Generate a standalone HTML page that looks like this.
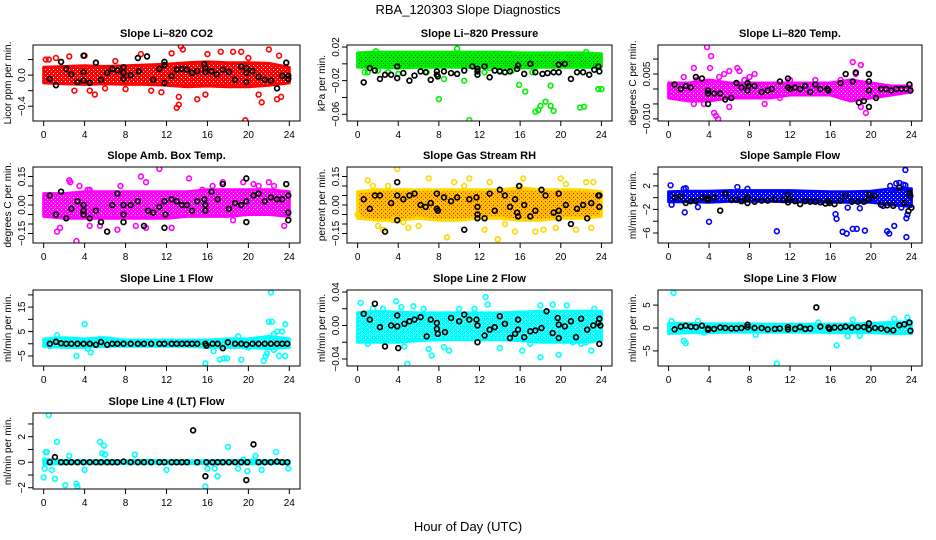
<!DOCTYPE html>
<html><head><meta charset="utf-8"><style>
html,body{margin:0;padding:0;background:#fff}
svg{display:block;font-family:"Liberation Sans",Arial,sans-serif}
</style></head><body>
<svg id="chart" width="936" height="540" viewBox="0 0 936 540" xmlns="http://www.w3.org/2000/svg">
<text x="468" y="14" text-anchor="middle" font-size="13">RBA_120303  Slope Diagnostics</text>
<text x="468" y="531" text-anchor="middle" font-size="13">Hour of Day (UTC)</text>
</svg>
<script>
const xTicks = [0,4,8,12,16,20,24];
const bandHours = [0,2,4,6,8,10,12,14,16,18,20,22,24];

// Panel 1: CO2
const co2BandLo = [-0.1,-0.11,-0.12,-0.11,-0.12,-0.12,-0.13,-0.15,-0.14,-0.15,-0.15,-0.13,-0.1];
const co2BandHi = [0.1,0.11,0.12,0.11,0.12,0.13,0.14,0.16,0.17,0.16,0.16,0.15,0.1];
const co2Pts = [[0.2,0.2],[0.5,0.2],[1.2,0.22],[2.5,0.24],[4,0.25],[4.5,-0.2],[5,-0.25],[9.5,0.27],[10.5,-0.2],[11.5,-0.22],[12.5,0.28],[13,-0.42],[13.2,-0.38],[13.4,0.37],[13.6,0.33],[13.2,-0.28],[15,-0.31],[15.8,-0.25],[16,0.27],[17.3,0.3],[18.5,0.3],[19.3,0.3],[19.7,-0.58],[20,0.22],[21.3,-0.35],[21,-0.25],[22,0.33],[22.8,-0.31],[23.2,-0.28],[23,0.25],[6,-0.17],[7,0.18],[8,-0.18],[3,-0.2]];
const co2Blk = [[0.6,-0.05],[1.2,-0.13],[1.7,0.17],[2.2,0.08],[2.7,0.01],[3.3,-0.09],[3.9,0.25],[3.9,0.04],[3.9,-0.07],[4.5,-0.1],[5.1,0.16],[5.6,-0.06],[6.2,0.03],[6.7,0.08],[7.2,0.06],[7.8,0.1],[7.8,0.03],[7.8,-0.05],[8.5,0],[9.2,0.22],[9.3,0.05],[10.1,0.24],[10.7,-0.06],[11.3,0.08],[11.8,-0.1],[11.8,0.17],[11.8,0.13],[12.5,-0.01],[13,0.07],[13.5,0.08],[14,0.07],[14.5,0.03],[15,0.05],[15.7,0.14],[15.8,0.04],[15.8,0.09],[16.4,0.05],[16.9,0.01],[17.5,0.07],[18.1,0.04],[18.7,-0.06],[19.3,0.11],[19.8,0.09],[19.8,0.03],[19.8,-0.09],[20.4,0.05],[21,-0.02],[21.6,-0.06],[22.2,-0.07],[22.8,-0.17],[23.3,-0.01],[23.7,0.16],[23.9,-0.01],[23.9,-0.05]];

// Panel 2: Pressure
const presBandLo = [-0.004,-0.004,-0.005,-0.004,-0.004,-0.004,-0.004,-0.004,-0.005,-0.004,-0.004,-0.004,-0.004];
const presBandHi = [0.013,0.014,0.014,0.014,0.014,0.014,0.014,0.014,0.013,0.013,0.013,0.013,0.012];
const presPts = [[0.7,-0.01],[1,-0.01],[1.8,0.015],[2,-0.008],[3,-0.01],[4,-0.012],[6.8,-0.01],[8,-0.042],[8.5,-0.018],[9.8,0.018],[10.5,-0.02],[11,-0.067],[12.5,-0.01],[13,-0.005],[14,-0.008],[15.2,-0.008],[15.9,-0.025],[16.5,-0.033],[17.2,-0.01],[17.5,-0.057],[17.8,-0.055],[18,-0.05],[18.5,-0.045],[19,-0.026],[19,-0.05],[19.3,-0.056],[21.5,0.0],[21.9,-0.052],[22.3,-0.051],[22.5,0.014],[23.7,-0.03],[24,-0.03],[20,0.01]];
const presBlk = [[0.6,-0.022],[1.2,-0.005],[1.7,-0.008],[2.2,-0.018],[2.7,-0.013],[3.3,-0.013],[3.9,-0.017],[3.9,-0.003],[4.5,-0.011],[5.1,-0.02],[5.6,-0.014],[6.2,-0.009],[6.7,-0.01],[7.2,-0.019],[7.8,-0.013],[7.8,-0.009],[7.9,-0.015],[8.5,-0.009],[9.2,-0.011],[9.8,-0.012],[10.5,-0.008],[11.3,-0.003],[11.8,-0.009],[11.8,-0.013],[11.8,-0.006],[12.5,-0.003],[13,-0.016],[13.5,-0.008],[14,-0.009],[14.5,-0.01],[15,-0.009],[15.7,-0.006],[15.8,-0.002],[16.4,-0.012],[17,0.0],[17.5,-0.01],[18.2,-0.012],[18.7,-0.011],[19.3,-0.01],[19.8,-0.001],[19.8,-0.01],[20.4,0.0],[21,-0.018],[21.6,-0.01],[22.2,-0.01],[22.8,-0.013],[23.3,-0.007],[23.7,-0.003],[23.8,-0.009]];

// Panel 3: Li-820 Temp
const tempBandLo = [-0.003,-0.004,-0.004,-0.003,-0.003,-0.003,-0.002,-0.002,-0.002,-0.004,-0.003,-0.002,-0.001];
const tempBandHi = [0.002,0.002,0.003,0.002,0.002,0.002,0.002,0.002,0.002,0.003,0.002,0.001,0.001];
const tempPts = [[3.8,0.014],[4.2,0.011],[4.1,0.007],[2.5,0.007],[1.5,0.004],[2.8,0.003],[3.5,-0.005],[4.5,-0.008],[4.7,-0.009],[4.9,-0.01],[5,0.004],[5.5,0.005],[6,0.006],[6.8,0.007],[7,0.006],[7.5,0.003],[8,0.004],[8.5,0.005],[9.5,-0.005],[14.5,0.003],[17,0.003],[18.2,0.009],[19,0.008],[19.5,-0.008],[19,-0.006],[18.5,0.005],[2.5,-0.005],[6,-0.006],[11,-0.003],[12,0.003]];
const tempBlk = [[0.6,0.0015],[1.2,0.0],[1.7,0.001],[2.2,0.0005],[2.7,0.004],[3.3,0.0035],[3.9,-0.0005],[3.9,-0.0015],[3.9,-0.005],[4.5,-0.0015],[5.1,-0.0015],[5.6,-0.0035],[6.2,-0.003],[6.7,0.002],[7.2,0.0005],[7.8,0.002],[7.8,-0.0005],[7.9,0.001],[8.5,0.001],[9.2,-0.001],[9.8,-0.0005],[10.2,0.0],[11,0.0025],[11.8,0.0035],[11.8,0.0005],[12,0.0],[12.5,0.0005],[13,0.0],[13.5,0.001],[14,-0.001],[14.5,0.0015],[15,0.0],[15.7,0.0],[15.8,-0.0005],[17,0.002],[17.5,0.005],[18.2,0.0025],[18.5,0.0055],[18.8,-0.0045],[19.3,-0.004],[19.8,0.005],[19.8,0.0025],[19.8,-0.0005],[19.8,-0.006],[20.5,-0.003],[21,0.0],[21.5,0.0],[22,-0.0005],[22.5,0.0],[23,0.0],[23.5,0.0],[23.8,0.0015],[23.9,-0.0005]];

// Panel 4: Amb Box Temp
const ambBandLo = [-0.06,-0.07,-0.07,-0.07,-0.07,-0.07,-0.07,-0.06,-0.06,-0.06,-0.05,-0.05,-0.06];
const ambBandHi = [0.06,0.06,0.07,0.07,0.07,0.07,0.07,0.07,0.08,0.08,0.08,0.08,0.07];
const ambPts = [[1.3,-0.14],[1.6,-0.12],[2.5,0.13],[2.6,0.12],[3.2,-0.19],[3.5,0.1],[4.3,0.08],[4.5,0.08],[4.5,-0.11],[5.5,-0.11],[7.2,-0.13],[7.5,0.1],[9,-0.11],[9.5,0.15],[10,0.12],[10,-0.12],[11.3,0.19],[12.5,-0.12],[14.2,0.14],[15.5,0.08],[16.5,0.1],[17.5,0.12],[18.5,-0.08],[20.5,0.11],[21,0.1],[22,0.12],[23.5,-0.11],[22.5,0.1],[19.5,0.12]];
const ambBlk = [[0.6,0.05],[1.2,-0.05],[1.7,0.07],[2.2,-0.07],[2.7,-0.02],[3.3,0.02],[3.9,-0.05],[3.9,0.0],[3.9,-0.03],[4.5,-0.07],[5.1,-0.03],[5.6,-0.09],[6.2,-0.14],[6.7,0.0],[7.2,0.06],[7.8,0.0],[7.8,-0.05],[7.8,-0.09],[8.5,0.0],[9.2,0.02],[9.8,-0.11],[10.2,-0.03],[10.7,-0.04],[11.3,-0.01],[11.8,-0.12],[11.8,0.02],[11.9,-0.05],[12.5,0.03],[13,0.02],[13.5,0.0],[14,0.0],[14.5,-0.03],[15,0.02],[15.7,0.03],[15.8,0.0],[15.8,-0.03],[16.4,0.07],[17,0.03],[17.5,0.11],[18.1,-0.02],[18.7,0.01],[19.3,0.0],[19.8,0.14],[19.8,0.02],[19.8,-0.09],[20.5,0.05],[21,0.06],[21.6,0.02],[22.2,0.04],[22.8,0.03],[23.3,0.03],[23.7,0.11],[23.9,0.05],[23.9,-0.04],[23.9,-0.08]];

// Panel 5: Gas Stream RH
const rhBandLo = [-0.07,-0.08,-0.08,-0.07,-0.08,-0.08,-0.07,-0.07,-0.08,-0.08,-0.07,-0.07,-0.06];
const rhBandHi = [0.07,0.08,0.08,0.08,0.08,0.08,0.08,0.08,0.09,0.08,0.08,0.08,0.07];
const rhPts = [[0,-0.05],[1,0.13],[1.5,0.1],[2,-0.11],[2.5,-0.13],[3,0.1],[3.5,-0.08],[3.9,0.19],[4.5,-0.09],[5,-0.12],[6,-0.11],[7,0.14],[8.8,-0.17],[9.5,0.12],[10.5,0.1],[11,0.14],[12.5,-0.13],[13,0.12],[13.8,-0.18],[14.5,-0.1],[15.5,-0.14],[16.3,0.14],[16,0.1],[17.5,-0.14],[18.3,-0.13],[19.5,-0.12],[20,0.14],[20.5,0.11],[21.5,-0.13],[22.5,0.12],[23,-0.12],[23.2,0.12]];
const rhBlk = [[0.6,0.03],[1.2,-0.02],[1.7,0.05],[2.2,0.05],[2.7,-0.14],[3.3,0.01],[3.9,0.12],[3.9,0.05],[3.9,-0.08],[4.5,0.03],[5.1,0.05],[5.6,0.06],[6.2,0.0],[6.7,-0.01],[7.2,0.01],[7.8,0.06],[7.8,-0.02],[7.9,-0.03],[8.5,0.04],[9.2,0.02],[9.8,0.04],[10.5,-0.13],[11,0.03],[11.7,0.04],[11.8,-0.01],[11.8,-0.05],[11.8,-0.07],[12.5,-0.07],[13,0.06],[13.5,-0.03],[14,0.08],[14.5,0.05],[15,-0.01],[15.5,0.03],[15.7,-0.04],[15.8,-0.06],[15.9,0.1],[16.4,0.0],[17,-0.06],[17.5,-0.03],[18.1,0.08],[18.5,0.05],[19.3,-0.04],[19.8,0.06],[19.8,-0.03],[19.8,-0.07],[20.5,0.0],[21,-0.1],[21.6,-0.02],[22.2,0.0],[22.6,-0.07],[23,0.01],[23.7,0.05],[23.8,-0.01],[23.8,0.05]];

// Panel 6: Sample Flow
const sfBandLo = [-0.7,-0.7,-0.8,-0.6,-0.6,-0.6,-0.7,-0.7,-0.8,-0.8,-0.8,-1.2,-1.5];
const sfBandHi = [1.0,1.1,1.1,1.2,1.2,1.2,1.2,1.1,1.0,1.0,1.1,1.5,1.5];
const sfPts = [[0.2,2.1],[0.3,-1.2],[1.5,1.5],[1.6,-2.5],[1.7,1.6],[2.9,-1.6],[4,-4.1],[6.8,1.8],[7.8,1.5],[10.7,-5.7],[16.5,-2.8],[16.6,-3.6],[17.2,-5.8],[17.6,-6.1],[17.7,-1.7],[18.2,-5.3],[18.6,-5.3],[18.9,-1.8],[19.4,-5.6],[21.2,-1.4],[21.6,-5.7],[21.8,-6.1],[21.9,2.0],[22.3,-4.8],[22.5,2.4],[22.8,2.5],[23,-1.7],[23.2,2.2],[23.4,4.7],[23.4,2.1],[23.5,-3.5],[23.6,-2.9],[23.5,-6.7],[23.6,1.3],[22.2,1.3]];
const sfBlk = [[0.6,0.0],[1.2,0.2],[1.7,-0.9],[2.2,-0.6],[2.7,-0.6],[3.3,0.0],[3.9,-0.4],[3.9,-0.1],[4.5,0.0],[5.1,-2.2],[5.6,0.6],[6.2,-0.4],[6.7,-0.4],[7.2,-0.6],[7.8,-0.9],[7.8,-0.2],[7.8,0],[8.5,-0.7],[9.2,-0.5],[9.8,-0.5],[10.5,-0.3],[11.3,-0.4],[11.8,0.5],[11.8,-0.8],[11.9,-0.2],[12.5,-0.6],[13,-1.1],[13.5,-0.6],[14,-0.7],[14.5,-0.7],[15,-0.8],[15.5,-1.0],[15.8,-0.6],[15.9,-0.9],[16.4,-1.1],[17,-0.5],[17.5,0.3],[18.1,-0.7],[18.7,-0.7],[19.3,-0.7],[19.8,0.5],[19.8,-0.3],[20.4,0.3],[21,-1.2],[21.6,-1.3],[22.2,-1.4],[22.8,1.7],[23.3,-0.9],[23.7,-2.3],[23.8,0.8],[24,-1.7],[23.9,0.3]];

// Panel 7: Line 1 Flow
const l1BandLo = [-1,-1.5,-1.5,-1,-1,-1,-1,-1,-1.5,-1.5,-1.5,-2,-1.5];
const l1BandHi = [2,2.5,2,2.5,1.5,1.5,1.5,1.5,1.5,2,2,3,2];
const l1Pts = [[0.6,-1],[1.3,3.5],[3.2,-5],[4,8],[4.3,-2],[4.6,-3.5],[5.5,2],[15.8,-8],[16.6,-3],[17.2,-6.5],[17.6,-6],[17.9,-6],[19.3,-6.5],[19,3],[21.5,-7],[21.7,-5],[22,9],[22.3,9],[22.2,21],[22.5,4],[22.8,5],[23,-5],[23.3,5],[23.6,8],[23.6,-5],[22.5,-2.5],[21.8,-4],[19.5,1],[20,-1.5]];
const l1Blk = [[0.6,0],[1.2,0.8],[1.7,0.2],[2.2,0],[2.7,0],[3.3,0],[3.9,0],[4.5,0],[5.1,-0.4],[5.6,0.7],[6.2,-0.4],[6.7,0],[7.2,0],[7.8,0],[8.5,0],[9.2,0],[9.8,0],[10.5,0],[11.3,0],[11.8,0],[12.5,0],[13,0],[13.5,0],[14,0],[14.5,0],[15,0],[15.8,0],[15.9,-0.8],[16.5,0],[17,0],[17.5,-1.8],[18,0.6],[18.7,0],[19.3,0],[19.8,-0.3],[20.4,0],[21,0],[21.6,0],[22.2,0],[22.8,0],[23.3,0],[23.8,0]];

// Panel 8: Line 2 Flow
const l2BandLo = [-0.02,-0.02,-0.02,-0.018,-0.017,-0.017,-0.017,-0.017,-0.018,-0.02,-0.02,-0.02,-0.018];
const l2BandHi = [0.015,0.017,0.016,0.015,0.015,0.015,0.015,0.015,0.016,0.017,0.017,0.017,0.017];
const l2Pts = [[0.3,0.027],[0.2,-0.018],[1,-0.022],[1.5,0.02],[2.5,0.02],[3.8,0.029],[4.3,0.022],[4.9,-0.046],[4.6,-0.025],[5.5,0.023],[6.5,0.02],[7,-0.028],[7.3,-0.036],[8.5,-0.026],[9,-0.03],[10,0.02],[11.5,0.02],[12.6,0.034],[12.8,0.025],[14,-0.027],[16.2,-0.03],[17,-0.022],[18,-0.038],[18,0.024],[19.2,0.025],[19.8,-0.035],[20.6,0.024],[21.2,-0.02],[22.5,-0.02],[23,-0.03],[23.3,0.02],[23.8,-0.01],[22,-0.022]];
const l2Blk = [[0.6,0.014],[1.2,0.007],[1.7,0.026],[2.2,-0.002],[2.7,-0.025],[3.3,0],[3.9,0.012],[3.9,-0.001],[4,-0.027],[4.6,0.002],[5.1,0.005],[5.6,0.007],[6.2,0.01],[6.8,-0.013],[7.2,0.007],[7.8,0.003],[7.8,-0.004],[7.9,-0.01],[8.6,-0.008],[9.2,0.009],[10,0.005],[10.5,0.013],[11,0.007],[11.7,0.007],[11.8,0.0],[11.8,-0.02],[12.5,-0.012],[13,-0.005],[13.5,-0.002],[14,0.011],[14.5,0.002],[15,-0.015],[15.5,-0.01],[15.8,-0.005],[15.8,0.007],[16.4,-0.014],[17,-0.007],[17.5,-0.006],[18.1,-0.003],[18.6,0.017],[19.2,-0.009],[19.7,0.009],[19.8,0.001],[19.8,-0.015],[20.4,-0.001],[21,0.005],[21.5,-0.014],[22,0.008],[22.6,-0.005],[23.2,0.0],[23.7,0.003],[23.8,0.008],[23.8,-0.022],[23.9,0.0]];

// Panel 9: Line 3 Flow
const l3BandLo = [-1.2,-1,-1,-0.9,-0.9,-0.9,-0.9,-0.9,-1,-1,-1,-1.2,-1.2];
const l3BandHi = [1.0,1.0,0.9,0.9,0.9,0.8,0.8,0.8,0.8,0.9,1.0,1.2,1.4];
const l3Pts = [[0.5,7.7],[0.3,1.5],[1.5,-2.8],[1.7,-3.3],[2.9,1.5],[8.6,-1.5],[10.7,-7.8],[16.6,-3.8],[17.7,-1.8],[18.2,1.8],[18.9,-1.7],[22.3,2],[23.6,2.3],[14.8,1.2],[3.5,-1]];
const l3Blk = [[0.6,-0.3],[1.2,0.3],[1.7,0.5],[2.2,0.3],[2.7,0.2],[3.3,0.5],[3.9,-0.1],[3.9,-0.4],[4.5,-0.2],[5.1,0.1],[5.6,0],[6.2,-0.1],[6.7,-0.1],[7.2,0],[7.8,0.7],[7.8,0.2],[8.5,0],[9.2,0],[9.8,-0.3],[10.5,-0.2],[11,-0.1],[11.8,0.2],[11.8,-0.3],[12.5,-0.2],[13,0.2],[13.5,-0.2],[14,-0.1],[14.6,4.5],[15,0.3],[15.8,0.1],[15.9,-0.2],[16.4,0.1],[17,0.1],[17.5,0.3],[18.1,0.1],[18.7,0.2],[19.3,0.2],[19.8,1],[19.8,-0.3],[20.4,0],[21,-0.1],[21.6,-0.4],[22.2,-0.5],[22.8,0.6],[23.3,0.8],[23.8,1.2],[23.9,-0.6]];

// Panel 10: Line 4 (LT) Flow
const l4BandLo = [-0.15,-0.1,-0.1,-0.1,-0.1,-0.1,-0.1,-0.1,-0.12,-0.1,-0.12,-0.1,-0.1];
const l4BandHi = [0.25,0.12,0.1,0.12,0.1,0.15,0.12,0.12,0.12,0.12,0.15,0.12,0.12];
const l4Pts = [[0,-1.2],[0.1,-0.5],[0.2,0.8],[0.3,0.8],[0.5,3.7],[0.8,-0.6],[1.1,-1.3],[1.3,1.6],[2.1,-1.8],[2.5,0.5],[3.2,-1.7],[3.3,-1.9],[4,-0.6],[5.5,1.6],[5.7,0.7],[5.9,1.3],[6,0.6],[8.9,0.6],[12,-0.6],[15.8,-1.9],[16,-0.5],[16.7,-0.5],[17,-1.1],[18,1.2],[19,-0.5],[19.5,0.2],[19.9,-0.7],[20.7,0.5],[21.3,-0.6],[22.7,0.8],[23.9,-0.5]];
const l4Blk = [[0.6,0],[1.1,0.4],[1.7,0],[2.2,0],[2.7,0],[3.3,0],[3.9,0],[4.5,0],[5.1,0],[5.6,0],[6.2,0],[6.7,0],[7.2,0],[7.8,0.05],[8.5,0],[9.2,0],[9.8,0],[10.5,0],[11.3,0],[11.8,0],[12.5,0],[13,0],[13.5,0],[14,0],[14.6,2.5],[15,0],[15.8,-1.1],[15.9,0],[16.5,0],[17,0],[17.5,0],[18.1,0],[18.7,0],[19.3,0],[19.8,-1.4],[19.9,0],[20.5,1.4],[21,0],[21.6,0],[22.2,0],[22.8,0.05],[23.3,0],[23.8,0]];

const yTicks1 = [-0.4,-0.2,0.0,0.2]; const yLab1 = ["-0.4","0.0"];
const yTicks2 = [-0.06,-0.04,-0.02,0.0,0.02]; const yLab2 = ["-0.06","-0.02","0.02"];
const yTicks3 = [-0.01,-0.005,0.0,0.005,0.01]; const yLab3 = ["-0.010","0.005"];
const yTicks4 = [-0.15,-0.1,-0.05,0,0.05,0.1,0.15]; const yLab4 = ["-0.15","0.00","0.15"];
const yTicks6 = [-6,-4,-2,0,2,4]; const yLab6 = ["-6","-2","2"];
const yTicks7 = [-5,0,5,10,15,20]; const yLab7 = ["-5","5","15"];
const yTicks8 = [-0.04,-0.02,0,0.02,0.04]; const yLab8 = ["-0.04","0.00","0.04"];
const yTicks9 = [-5,0,5]; const yLab9 = ["-5","0","5"];
const yTicks10 = [-2,-1,0,1,2,3]; const yLab10 = ["-2","0","2"];

const cols=[[33,300],[347,612],[658,922]];
const rows=[45,167,290,413];
const H=76;
const panels=[
 {name:"co2",title:"Slope Li\u2013820 CO2",ylab:"Licor ppm per min.",c:0,r:0,ymin:-0.59,ymax:0.387,ticks:yTicks1,labs:yLab1,col:"#ff0000",bg:"#ff0000",dot:"#ffffff",lo:co2BandLo,hi:co2BandHi,pts:co2Pts,blk:co2Blk},
 {name:"pressure",title:"Slope Li\u2013820 Pressure",ylab:"kPa per min.",c:1,r:0,ymin:-0.068,ymax:0.0224,ticks:yTicks2,labs:yLab2,col:"#00ee00",bg:"#00ee00",dot:"#005500",lo:presBandLo,hi:presBandHi,pts:presPts,blk:presBlk},
 {name:"li820-temp",title:"Slope Li\u2013820 Temp.",ylab:"degrees C per min.",c:2,r:0,ymin:-0.0107,ymax:0.0147,ticks:yTicks3,labs:yLab3,col:"#ff00ff",bg:"#ff00ff",dot:"#ffffff",lo:tempBandLo,hi:tempBandHi,pts:tempPts,blk:tempBlk},
 {name:"amb-box-temp",title:"Slope Amb. Box Temp.",ylab:"degrees C per min.",c:0,r:1,ymin:-0.2,ymax:0.2,ticks:yTicks4,labs:yLab4,col:"#ff00ff",bg:"#ff00ff",dot:"#ffffff",lo:ambBandLo,hi:ambBandHi,pts:ambPts,blk:ambBlk},
 {name:"gas-stream-rh",title:"Slope Gas Stream RH",ylab:"percent per min.",c:1,r:1,ymin:-0.2,ymax:0.2,ticks:yTicks4,labs:yLab4,col:"#ffd700",bg:"#ffc000",dot:"#ff0000",lo:rhBandLo,hi:rhBandHi,pts:rhPts,blk:rhBlk},
 {name:"sample-flow",title:"Slope Sample Flow",ylab:"ml/min per min.",c:2,r:1,ymin:-7.7,ymax:5.2,ticks:yTicks6,labs:yLab6,col:"#0000ff",bg:"#0000ff",dot:"#ffffff",lo:sfBandLo,hi:sfBandHi,pts:sfPts,blk:sfBlk},
 {name:"line1-flow",title:"Slope Line 1 Flow",ylab:"ml/min per min.",c:0,r:2,ymin:-9.1,ymax:22,ticks:yTicks7,labs:yLab7,col:"#00ffff",bg:"#00ffff",dot:"#ffffff",lo:l1BandLo,hi:l1BandHi,pts:l1Pts,blk:l1Blk},
 {name:"line2-flow",title:"Slope Line 2 Flow",ylab:"ml/min per min.",c:1,r:2,ymin:-0.0484,ymax:0.0424,ticks:yTicks8,labs:yLab8,col:"#00ffff",bg:"#00ffff",dot:"#ffffff",lo:l2BandLo,hi:l2BandHi,pts:l2Pts,blk:l2Blk},
 {name:"line3-flow",title:"Slope Line 3 Flow",ylab:"ml/min per min.",c:2,r:2,ymin:-8.3,ymax:8.3,ticks:yTicks9,labs:yLab9,col:"#00ffff",bg:"#00ffff",dot:"#ffffff",lo:l3BandLo,hi:l3BandHi,pts:l3Pts,blk:l3Blk},
 {name:"line4-flow",title:"Slope Line 4 (LT) Flow",ylab:"ml/min per min.",c:0,r:3,ymin:-2.1,ymax:3.86,ticks:yTicks10,labs:yLab10,col:"#00ffff",bg:"#00ffff",dot:"#ffffff",lo:l4BandLo,hi:l4BandHi,pts:l4Pts,blk:l4Blk}
];
const NS="http://www.w3.org/2000/svg";
const svg=document.getElementById('chart');
function mk(tag,attrs,parent){const e=document.createElementNS(NS,tag);for(const k in attrs)e.setAttribute(k,attrs[k]);parent.appendChild(e);return e;}
function fmt(v,labs){for(const l of labs){if(Math.abs(parseFloat(l)-v)<1e-9)return l;}return null;}
const defs=mk('defs',{},svg);
panels.forEach(p=>{
 const L=cols[p.c][0],R=cols[p.c][1],T=rows[p.r],B=T+H;
 const xs=h=>L+(R-L)*0.04+(h/24)*(R-L)*0.92;
 const ys=v=>B-(v-p.ymin)/(p.ymax-p.ymin)*H;
 const g=mk('g',{},svg);
 
 
 const t=mk('text',{x:(L+R)/2,y:T-8,'text-anchor':'middle','font-size':'11','font-weight':'bold'},g);
 
 
 t.textContent=p.title;
 const yl=mk('text',{x:0,y:0,'text-anchor':'middle','font-size':'10',transform:`translate(${L-22},${(T+B)/2}) rotate(-90)`},g);
 
 
 yl.textContent=p.ylab;
 // texture pattern
 const pid='pat-'+p.name;
 const pat=mk('pattern',{id:pid,width:4,height:4,patternUnits:'userSpaceOnUse'},defs);
 mk('rect',{x:0,y:0,width:4,height:4,fill:p.bg},pat);
 mk('rect',{x:1,y:1,width:1,height:1,fill:p.dot},pat);
 mk('rect',{x:3,y:3,width:1,height:1,fill:p.dot,opacity:0.6},pat);
 const cid='clip-'+p.name;
 const cp=mk('clipPath',{id:cid},defs);mk('rect',{x:L,y:T,width:R-L,height:H},cp);
 const dg=mk('g',{'clip-path':`url(#${cid})`},g);
 let d='';bandHours.forEach((h,i)=>{d+=(i?'L':'M')+xs(h).toFixed(1)+','+ys(p.hi[i]).toFixed(1);});
 for(let i=bandHours.length-1;i>=0;i--)d+='L'+xs(bandHours[i]).toFixed(1)+','+ys(p.lo[i]).toFixed(1);
 const band=mk('path',{d:d+'Z',fill:`url(#${pid})`,stroke:p.col,'stroke-width':'3','stroke-linejoin':'round'},dg);
 
 
 p.pts.forEach(pt=>{
  const c=mk('circle',{cx:xs(pt[0]),cy:ys(pt[1]),r:2.4,fill:'none',stroke:p.col,'stroke-width':'1.6'},dg);
  
  
 });
 p.blk.forEach(pt=>{
  const c=mk('circle',{cx:xs(pt[0]),cy:ys(pt[1]),r:2.4,fill:'none',stroke:'#000','stroke-width':'1.7'},dg);
  
  
 });
 const box=mk('rect',{x:L,y:T,width:R-L,height:H,fill:'none',stroke:'#000','stroke-width':'1'},g);
 
 
 mk('line',{x1:xs(0),x2:xs(24),y1:B,y2:B,stroke:'#000'},g);
 xTicks.forEach(h=>{
  mk('line',{x1:xs(h),x2:xs(h),y1:B,y2:B+5,stroke:'#000'},g);
  const tx=mk('text',{x:xs(h),y:B+17,'text-anchor':'middle','font-size':'10'},g);
  
  
  tx.textContent=h;
 });
 const tv=p.ticks.filter(v=>v>=p.ymin&&v<=p.ymax);
 mk('line',{x1:L,x2:L,y1:ys(tv[0]),y2:ys(tv[tv.length-1]),stroke:'#000'},g);
 tv.forEach(v=>{
  mk('line',{x1:L-5,x2:L,y1:ys(v),y2:ys(v),stroke:'#000'},g);
  const lab=fmt(v,p.labs);
  if(lab!==null){
   const tx=mk('text',{x:0,y:0,'text-anchor':'middle','font-size':'10',transform:`translate(${L-8},${ys(v)}) rotate(-90)`},g);
   
   
   tx.textContent=lab.replace('-','\u2212');
  }
 });
});
</script>
</body></html>
